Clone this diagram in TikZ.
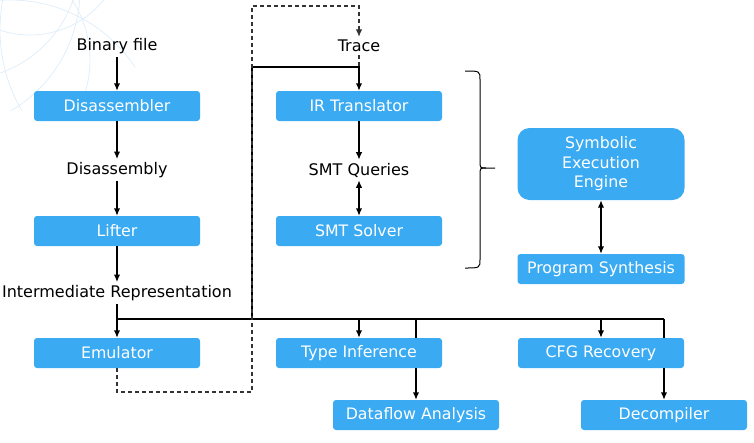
\documentclass[tikz,border=0pt]{standalone}
\usepackage{fontspec}
\setmainfont{DejaVu Sans}
\usetikzlibrary{arrows.meta}
\definecolor{bcol}{RGB}{58,170,242}
\definecolor{arccol}{RGB}{225,238,249}
\tikzset{every picture/.style={x=1pt,y=-1pt}}
\tikzset{box/.style={rectangle,fill=bcol,text=white,rounded corners=3pt,minimum width=166,minimum height=30,inner sep=0pt,font=\fontsize{15.8}{18}\selectfont}}
\tikzset{big/.style={minimum height=72,rounded corners=12pt,align=center,font=\fontsize{15.8}{19.5}\selectfont}}
\tikzset{lbl/.style={inner sep=3pt,font=\fontsize{16}{18}\selectfont}}
\tikzset{edge/.style={-{Latex[length=7.5pt,width=6.5pt]},line width=1.4pt}}
\tikzset{both/.style={{Latex[length=7.5pt,width=6.5pt]}-{Latex[length=7.5pt,width=6.5pt]},line width=1.4pt}}
\tikzset{wire/.style={line width=1.4pt}}
\tikzset{trail/.style={line width=1.2pt,dash pattern=on 4pt off 3pt,black!80}}

\begin{document}
\begin{tikzpicture}
\useasboundingbox (0,0) rectangle (754,442);
\begin{scope}
\clip (0,0) rectangle (135,110);
\draw [arccol,line width=.8pt] (-20,60) circle (110);
\draw [arccol,line width=.8pt] (30,-60) circle (95);
\draw [arccol,line width=.8pt] (-60,-10) circle (140);
\draw [arccol,line width=.8pt] (160,30) circle (160);
\draw [arccol,line width=.8pt] (10,150) circle (150);
\draw [arccol,line width=.8pt] (-40,-40) circle (120);
\end{scope}

\node [lbl] (bin) at (117,46) {Binary file};
\node [box] (disasm) at (117,106) {Disassembler};
\node [lbl] (disasmy) at (117,170) {Disassembly};
\node [box] (lift) at (117,231) {Lifter};
\node [lbl] (ir) at (117,293) {Intermediate Representation};
\node [box] (emu) at (117,353) {Emulator};

\node [lbl] (trace) at (359,46) {Trace};
\node [box] (irt) at (359,106) {IR Translator};
\node [lbl] (smtq) at (359,170) {SMT Queries};
\node [box] (smts) at (359,231) {SMT Solver};
\node [box] (tinf) at (359,353) {Type Inference};
\node [box] (dfa) at (416,415) {Dataflow Analysis};

\node [box,big,minimum width=167] (see) at (601,164) {Symbolic\\Execution\\Engine};
\node [box,minimum width=167] (synth) at (601,269) {Program Synthesis};
\node [box] (cfg) at (601,353) {CFG Recovery};
\node [box] (dec) at (664,415) {Decompiler};

\coordinate (bus) at (117,319);
\coordinate (busr) at (664,319);
\coordinate (tap) at (252,319);
\coordinate (tapt) at (252,67);
\coordinate (join) at (359,67);
\coordinate (dft) at (416,319);
\coordinate (loop) at (117,392);
\coordinate (loopr) at (252,392);
\coordinate (top) at (252,6);
\coordinate (topr) at (359,6);
\coordinate (brtop) at (465,71);
\coordinate (brtip) at (495,168);
\coordinate (brbot) at (465,268);

\draw [edge] (bin) -- (disasm);
\draw [edge] (disasm) -- (disasmy);
\draw [edge] (disasmy) -- (lift);
\draw [edge] (lift) -- (ir);
\draw [edge] (ir) -- (emu);

\draw [wire] (bus) -- (busr);
\draw [edge] (tinf.north |- bus) -- (tinf);
\draw [edge] (cfg.north |- bus) -- (cfg);
\draw [wire] (dft) -- (dft |- tinf.north);
\draw [edge] (dft |- tinf.south) -- (dfa);
\draw [wire] (busr) -- (busr |- cfg.north);
\draw [edge] (busr |- cfg.south) -- (dec);

\draw [edge] (tap) -- (tapt) -- (join) -- (irt);
\draw [trail,-{Latex[length=7.5pt,width=6.5pt]}] (emu) -- (loop) -- (loopr) -- (top) -- (topr) -- (trace);
\draw [trail] (trace) -- (join);

\draw [edge] (irt) -- (smtq);
\draw [both] (smtq) -- (smts);
\draw [both] (see) -- (synth);

% brace
\draw [line width=1pt] (brtop) .. controls (480,71) .. (480,80) -- (480,161)
  .. controls (480,168) .. (486,168) -- (brtip);
\draw [line width=1pt] (brbot) .. controls (480,268) .. (480,259) -- (480,175)
  .. controls (480,168) .. (486,168);
\end{tikzpicture}
\end{document}
